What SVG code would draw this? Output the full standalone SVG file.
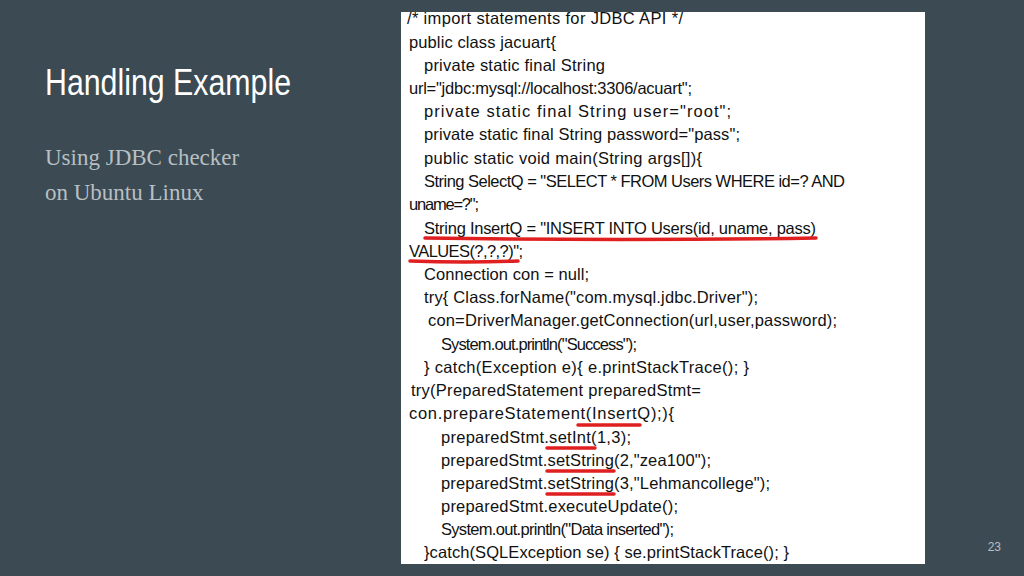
<svg xmlns="http://www.w3.org/2000/svg" width="1024" height="576" viewBox="0 0 1024 576">
<style>
.c{font-family:"Liberation Sans",Arial,sans-serif;font-size:16.5px;fill:#111}
.u{stroke:#e02020;stroke-width:3.5;stroke-linecap:round;fill:none}
</style>
<rect width="1024" height="576" fill="#3b4a53"/>
<text x="45" y="95" font-family="Liberation Sans Narrow,Liberation Sans,sans-serif" font-size="36" fill="#fff" textLength="246" lengthAdjust="spacingAndGlyphs">Handling Example</text>
<text font-family="Liberation Serif,serif" font-size="23" fill="#b8bfc3"><tspan x="45" y="165">Using JDBC checker</tspan><tspan x="45" y="200">on Ubuntu Linux</tspan></text>
<text x="1001" y="551" font-family="Liberation Sans,sans-serif" font-size="12" fill="#b8bfc3" text-anchor="end">23</text>
<rect x="401" y="12" width="524" height="552" fill="#fff"/>
<g class="c">
<text x="407" y="24" textLength="276">/* import statements for JDBC API */</text>
<text x="409" y="48" textLength="147">public class jacuart{</text>
<text x="424" y="71" textLength="181">private static final String</text>
<text x="409" y="94" textLength="283">url="jdbc:mysql://localhost:3306/acuart";</text>
<text x="424" y="117" textLength="307">private static final String user="root";</text>
<text x="424" y="140" textLength="316">private static final String password="pass";</text>
<text x="424" y="164" textLength="278">public static void main(String args[]){</text>
<text x="424" y="187" textLength="421">String SelectQ = "SELECT * FROM Users WHERE id=? AND</text>
<text x="409" y="210" textLength="70">uname=?";</text>
<text x="424" y="234" textLength="392">String InsertQ = "INSERT INTO Users(id, uname, pass)</text>
<text x="409" y="257" textLength="114">VALUES(?,?,?)";</text>
<text x="424" y="280" textLength="165">Connection con = null;</text>
<text x="424" y="303" textLength="334">try{ Class.forName("com.mysql.jdbc.Driver");</text>
<text x="428" y="326" textLength="409">con=DriverManager.getConnection(url,user,password);</text>
<text x="441" y="350" textLength="196">System.out.println("Success");</text>
<text x="424" y="373" textLength="325">}    catch(Exception e){ e.printStackTrace(); }</text>
<text x="411" y="396" textLength="290">try(PreparedStatement preparedStmt=</text>
<text x="409" y="419" textLength="265">con.prepareStatement(InsertQ);){</text>
<text x="441" y="443" textLength="190">preparedStmt.setInt(1,3);</text>
<text x="441" y="466" textLength="270">preparedStmt.setString(2,"zea100");</text>
<text x="441" y="489" textLength="329">preparedStmt.setString(3,"Lehmancollege");</text>
<text x="441" y="512" textLength="237">preparedStmt.executeUpdate();</text>
<text x="441" y="535" textLength="233">System.out.println("Data inserted");</text>
<text x="424" y="558" textLength="365">}catch(SQLException se) { se.printStackTrace();   }</text>
</g>
<g class="u">
<path d="M425 238 Q620 241 816 238"/>
<path d="M410 261 Q465 263 518 261"/>
<path d="M578 425 L640 425"/>
<path d="M547 448 L595 448"/>
<path d="M547 471 L614 471"/>
<path d="M547 494 L614 494"/>
</g>
</svg>
